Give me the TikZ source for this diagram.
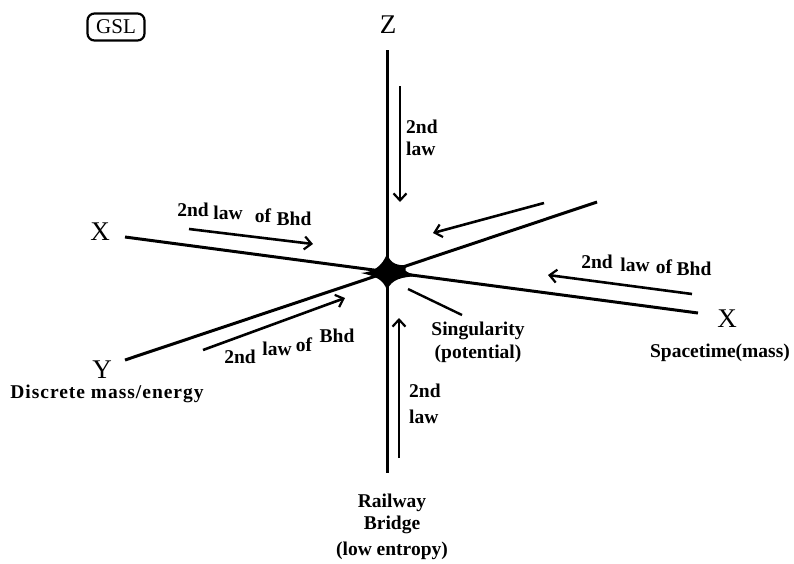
\documentclass[tikz,border=0pt]{standalone}
\usepackage{fontspec}
\setmainfont{Liberation Serif}
\usetikzlibrary{arrows.meta}
\tikzset{
  axisline/.style={line width=3pt},
  flowarrow/.style={line width=2.6pt,-{Straight Barb[length=7pt,width=13pt,line width=2.2pt]}},
  lbl/.style={inner sep=0pt,anchor=base,font=\bfseries\fontsize{19.5}{22}\selectfont},
  axlbl/.style={inner sep=0pt,anchor=base,font=\fontsize{27}{28}\selectfont},
}
\begin{document}
\begin{tikzpicture}[x=1pt,y=-1pt]
\useasboundingbox (0,0) rectangle (794,563);
% GSL box
\node[draw,line width=2.2pt,rounded corners=7pt,minimum width=57pt,minimum height=27pt,inner sep=0pt,font=\fontsize{21}{22}\selectfont] (gsl) at (116,27) {GSL};
% axis end points
\coordinate (c) at (387,272);
\coordinate (ztop) at (387,50);
\coordinate (zbot) at (387,473);
\coordinate (xl) at (125,237);
\coordinate (xr) at (698,313);
\coordinate (yl) at (125,360);
\coordinate (yr) at (597,202);
\draw[axisline] (ztop) -- (zbot);
\draw[axisline] (xl) -- (xr);
\draw[axisline] (yl) -- (yr);
% singularity star
\fill (361,273) .. controls (374,272) and (382,266) .. (387,254)
  .. controls (391,264) and (397,266) .. (409,265)
  .. controls (402,270) and (404,272) .. (419,276)
  .. controls (401,277) and (392,279) .. (387,290)
  .. controls (383,279) and (375,276) .. (361,273) -- cycle;
\fill (387,272) circle (8pt);
% axis labels
\node[axlbl] (zl) at (388,33) {Z};
\node[axlbl] (xlab) at (100,240) {X};
\node[axlbl] (xrlab) at (727,327) {X};
\node[axlbl] (ylab) at (102,378) {Y};
% arrows
\coordinate (a1s) at (400,86);  \coordinate (a1e) at (400,202);
\coordinate (a2s) at (399,458); \coordinate (a2e) at (399,318);
\coordinate (a3s) at (189,229); \coordinate (a3e) at (313,244);
\coordinate (a4s) at (544,203); \coordinate (a4e) at (433,233);
\coordinate (a5s) at (692,294); \coordinate (a5e) at (548,275);
\coordinate (a6s) at (203,350); \coordinate (a6e) at (345,298);
\draw[flowarrow] (a1s) -- (a1e);
\draw[flowarrow] (a2s) -- (a2e);
\draw[flowarrow] (a3s) -- (a3e);
\draw[flowarrow] (a4s) -- (a4e);
\draw[flowarrow] (a5s) -- (a5e);
\draw[flowarrow] (a6s) -- (a6e);
% singularity pointer
\node[lbl] (sing1) at (478,335) {Singularity};
\node[lbl] (sing2) at (478,358) {(potential)};
\coordinate (p1) at (408,289);
\coordinate (p2) at (462,315);
\draw[line width=2.4pt] (p1) -- (p2);
% vertical labels
\node[lbl,anchor=base west] (t2nd) at (406,133) {2nd};
\node[lbl,anchor=base west] (tlaw) at (406,155) {law};
\node[lbl,anchor=base west] (b2nd) at (409,397) {2nd};
\node[lbl,anchor=base west] (blaw) at (409,423) {law};
% upper-left label
\node[lbl] (ul1) at (193,216) {2nd};
\node[lbl] (ul2) at (228,219) {law};
\node[lbl] (ul3) at (263,222) {of};
\node[lbl] (ul4) at (294,225) {Bhd};
% right label
\node[lbl] (r1) at (597,268) {2nd};
\node[lbl] (r2) at (635,271) {law};
\node[lbl] (r3) at (664,273) {of};
\node[lbl] (r4) at (694,275) {Bhd};
% lower-left label
\node[lbl] (ll1) at (240,363) {2nd};
\node[lbl] (ll2) at (277,355) {law};
\node[lbl] (ll3) at (304,351) {of};
\node[lbl] (ll4) at (337,342) {Bhd};
% bottom texts
\node[lbl] (sp) at (720,357) {Spacetime(mass)};
\node[lbl] (dm) at (107,398) {\addfontfeature{LetterSpace=5}Discrete mass/energy};
\node[lbl] (rw1) at (392,507) {Railway};
\node[lbl] (rw2) at (392,529) {Bridge};
\node[lbl] (rw3) at (392,555) {(low entropy)};
\end{tikzpicture}
\end{document}
